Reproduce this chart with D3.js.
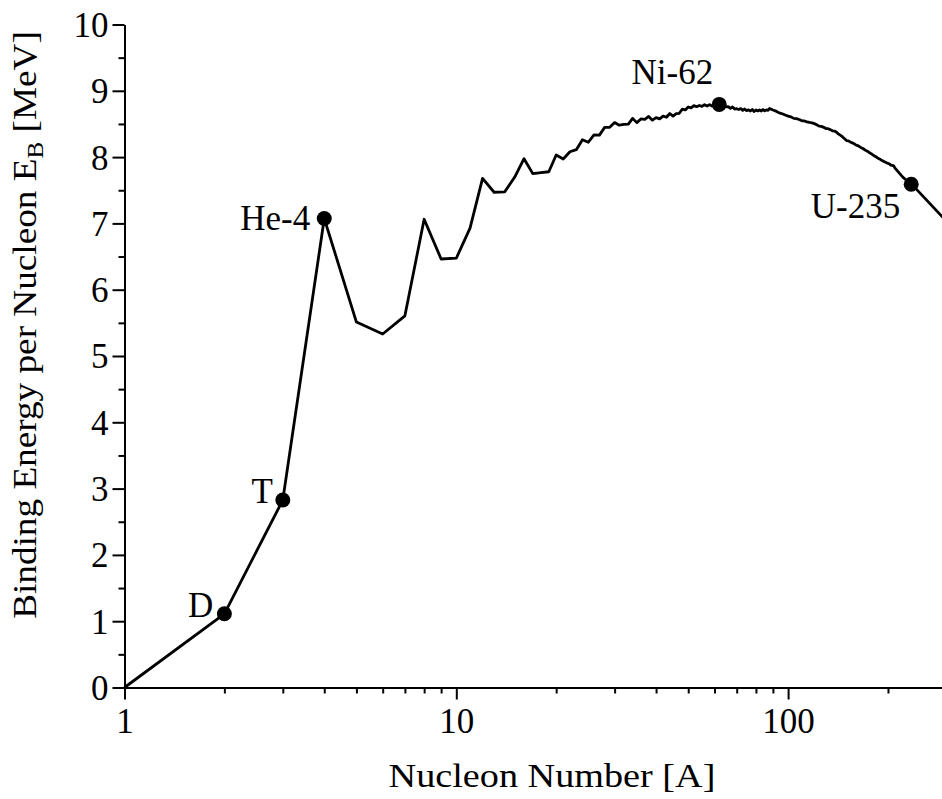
<!DOCTYPE html>
<html>
<head>
<meta charset="utf-8">
<script src="https://cdn.jsdelivr.net/npm/d3@7"></script>
<style>
  html, body { margin: 0; padding: 0; background: #fff; }
  svg { display: block; }
  text { font-family: "Liberation Serif", "DejaVu Serif", serif; fill: #000; }
</style>
</head>
<body>
<svg id="chart" width="942" height="799"></svg>
<script>
// ---- Data: nucleon number A and binding energy per nucleon (MeV) ----
const nucleonA = [
  1,2,3,4,5,6,7,8,9,10,11,12,13,14,15,16,17,18,19,20,
  21,22,23,24,25,26,27,28,29,30,31,32,33,34,35,36,37,38,39,40,
  41,42,43,44,45,46,47,48,49,50,51,52,53,54,55,56,57,58,59,60,
  61,62,63,64,65,66,67,68,69,70,71,72,73,74,75,76,77,78,79,80,
  81,82,83,84,85,86,87,88,
  90,92,94,96,98,100,102,104,106,108,110,112,114,116,118,120,122,124,126,128,130,132,134,136,138,
  140,142,144,146,148,150,152,154,156,158,160,162,164,166,168,170,172,174,176,178,180,182,184,186,188,190,192,194,196,198,200,202,204,206,208,
  210,222,226,232,235,238,294
];
const bindingEnergy = [
  0,1.112,2.827,7.074,5.512,5.332,5.606,7.062,6.463,6.475,6.928,7.680,7.470,7.476,7.699,7.976,7.751,7.767,7.779,8.032,
  7.972,8.081,8.112,8.261,8.224,8.334,8.332,8.448,8.449,8.521,8.481,8.493,8.498,8.584,8.520,8.575,8.570,8.614,8.557,8.595,
  8.576,8.617,8.601,8.658,8.619,8.656,8.661,8.723,8.711,8.756,8.742,8.776,8.760,8.778,8.765,8.790,8.770,8.792,8.768,8.781,
  8.765,8.795,8.752,8.777,8.757,8.760,8.734,8.756,8.725,8.730,8.718,8.732,8.705,8.725,8.701,8.712,8.695,8.718,8.688,8.711,
  8.696,8.711,8.696,8.717,8.698,8.712,8.705,8.733,
  8.710,8.693,8.667,8.654,8.635,8.619,8.607,8.584,8.580,8.567,8.547,8.545,8.532,8.523,8.517,8.505,8.488,8.467,8.463,8.449,8.430,8.428,8.414,8.396,8.393,
  8.376,8.346,8.327,8.304,8.277,8.250,8.244,8.227,8.215,8.202,8.183,8.174,8.159,8.142,8.130,8.112,8.097,8.084,8.064,8.052,8.035,8.018,8.005,7.989,7.974,7.963,7.948,7.936,7.927,7.914,7.906,7.897,7.880,7.875,7.868,
  7.834,7.695,7.662,7.615,7.591,7.570,7.080
];

// highlighted nuclides
const markNames = ["D", "T", "He-4", "Ni-62", "U-235"];
const markA = [2, 3, 4, 62, 235];
const markBE = [1.112, 2.827, 7.074, 8.795, 7.591];

// ticks
const yMajorTicks = [0,1,2,3,4,5,6,7,8,9,10];
const yMinorTicks = [0.5,1.5,2.5,3.5,4.5,5.5,6.5,7.5,8.5,9.5];
const xMajorTicks = [1, 10, 100];
const xMinorTicks = [2,3,4,5,6,7,8,9,20,30,40,50,60,70,80,90,200,300];

const xTitle = "Nucleon Number [A]";
const yTitleMain = "Binding Energy per Nucleon E";
const yTitleSub = "B";
const yTitleEnd = " [MeV]";

// ---- Layout ----
const svg = d3.select("#chart");
const plotLeft = 124.5, plotTop = 24.5, plotBottom = 687.5;
const pxPerDecade = 331.8;

const x = d3.scaleLog().domain([1, 300]).range([plotLeft, plotLeft + pxPerDecade * Math.log10(300)]);
const y = d3.scaleLinear().domain([0, 10]).range([plotBottom, plotTop]);

const FS = 34;

// x axis
const gx = svg.append("g").attr("transform", `translate(0,${plotBottom})`);
gx.call(d3.axisBottom(x).tickValues(xMajorTicks).tickFormat(d3.format("d")).tickSize(12).tickSizeOuter(0).tickPadding(8));
const gxm = svg.append("g").attr("transform", `translate(0,${plotBottom})`);
gxm.call(d3.axisBottom(x).tickValues(xMinorTicks).tickFormat("").tickSize(6).tickSizeOuter(0));
gxm.select(".domain").remove();

// y axis
const gy = svg.append("g").attr("transform", `translate(${plotLeft},0)`);
gy.call(d3.axisLeft(y).tickValues(yMajorTicks).tickFormat(d3.format("d")).tickSize(12).tickSizeOuter(0).tickPadding(4));
const gym = svg.append("g").attr("transform", `translate(${plotLeft},0)`);
gym.call(d3.axisLeft(y).tickValues(yMinorTicks).tickFormat("").tickSize(6).tickSizeOuter(0));
gym.select(".domain").remove();

svg.selectAll(".domain, .tick line").attr("stroke", "#000").attr("stroke-width", 2);
svg.selectAll(".tick text").attr("font-size", 35).attr("font-family", '"Liberation Serif", serif').attr("fill", "#000");
gy.selectAll(".tick text").attr("dy", "0.34em");
gx.selectAll(".tick text").attr("dy", "0.72em");

// line
const pts = nucleonA.map((a, i) => [a, bindingEnergy[i]]);
svg.append("path")
  .datum(pts)
  .attr("fill", "none")
  .attr("stroke", "#000")
  .attr("stroke-width", 2.8)
  .attr("stroke-linejoin", "round")
  .attr("d", d3.line().x(d => x(d[0])).y(d => y(d[1])));

// marker points
const marks = markNames.map((n, i) => ({ name: n, a: markA[i], be: markBE[i] }));
svg.selectAll("circle.mark").data(marks).join("circle")
  .attr("class", "mark")
  .attr("cx", d => x(d.a)).attr("cy", d => y(d.be)).attr("r", 7.5).attr("fill", "#000");

const labelOffsets = {
  "D": [-11, 3], "T": [-10, 3], "He-4": [-14, 12], "Ni-62": [-6, -20], "U-235": [-11, 34]
};
svg.selectAll("text.mark").data(marks).join("text")
  .attr("class", "mark")
  .attr("x", d => x(d.a) + labelOffsets[d.name][0])
  .attr("y", d => y(d.be) + labelOffsets[d.name][1])
  .attr("text-anchor", "end")
  .attr("font-size", 35)
  .text(d => d.name);

// axis titles (stretched along their reading direction to match the wider serif face)
const xt = svg.append("text")
  .attr("text-anchor", "middle")
  .attr("font-size", FS)
  .text(xTitle);
const xw = xt.node().getBBox().width;
xt.attr("transform", `translate(552,787) scale(${327 / xw},1)`);

const yt = svg.append("text")
  .attr("text-anchor", "middle")
  .attr("font-size", FS);
yt.append("tspan").text(yTitleMain);
yt.append("tspan").attr("font-size", 23).attr("dy", 7).text(yTitleSub);
yt.append("tspan").attr("dy", -7).text(yTitleEnd);
const yw = yt.node().getBBox().width;
yt.attr("transform", `translate(36,325) rotate(-90) scale(${588 / yw},1)`);
</script>
</body>
</html>
